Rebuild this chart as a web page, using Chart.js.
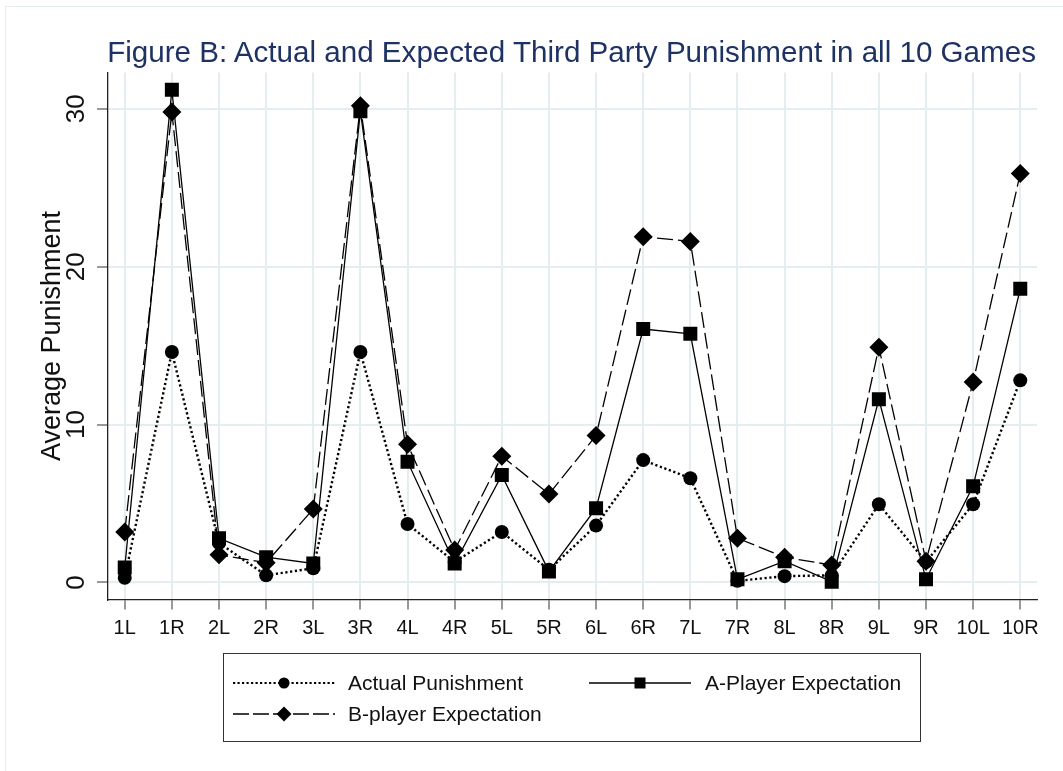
<!DOCTYPE html>
<html>
<head>
<meta charset="utf-8">
<script src="https://cdn.jsdelivr.net/npm/chart.js@4.4.1/dist/chart.umd.min.js"></script>
<style>
  html, body { margin: 0; padding: 0; background: #ffffff; overflow: hidden; }
  body { width: 1063px; height: 771px; position: relative; font-family: "Liberation Sans", Arial, sans-serif; }
  #frame { position: absolute; left: 5px; top: 6px; width: 2000px; height: 2000px; border: 1px solid #e6edf0; box-sizing: border-box; pointer-events: none; }
  #chart { position: absolute; left: 0; top: 0; }
  #title { position: absolute; right: 27px; top: 37px; font-size: 29.6px; line-height: 29px; color: #1e3263; white-space: nowrap; }
  #legend { position: absolute; left: 223px; top: 653px; width: 698px; height: 89px; border: 1px solid #333; box-sizing: border-box; }
  .item { position: absolute; height: 24px; display: flex; align-items: center; font-size: 21px; color: #111; white-space: nowrap; }
  .item svg { display: block; }
  .lbl { position: absolute; line-height: 24px; }
</style>
</head>
<body>
<div id="frame"></div>
<canvas id="chart" width="1063" height="771"></canvas>
<div id="title">Figure B: Actual and Expected Third Party Punishment in all 10 Games</div>
<div id="legend"></div>
<script>
const categories = ['1L','1R','2L','2R','3L','3R','4L','4R','5L','5R','6L','6R','7L','7R','8L','8R','9L','9R','10L','10R'];
const actualPunishment = [0.3, 14.6, 2.5, 0.45, 0.9, 14.6, 3.7, 1.3, 3.2, 0.8, 3.6, 7.75, 6.6, 0.1, 0.4, 0.45, 4.95, 1.3, 4.95, 12.8];
const aPlayerExpectation = [0.95, 31.2, 2.8, 1.6, 1.2, 29.85, 7.65, 1.2, 6.8, 0.7, 4.7, 16.05, 15.75, 0.2, 1.35, 0.05, 11.6, 0.2, 6.1, 18.6];
const bPlayerExpectation = [3.2, 29.8, 1.75, 1.25, 4.65, 30.2, 8.75, 2.05, 8.0, 5.6, 9.3, 21.9, 21.6, 2.8, 1.6, 1.1, 14.9, 1.35, 12.7, 25.9];
const yTickValues = [0, 10, 20, 30];
const seriesNames = ['Actual Punishment', 'A-Player Expectation', 'B-player Expectation'];

const toPoints = arr => arr.map((v, i) => ({ x: i, y: v }));
const FONT = '"Liberation Sans", Arial, sans-serif';
const GRID = '#e4edef';

const chart = new Chart(document.getElementById('chart'), {
  type: 'line',
  data: {
    datasets: [
      {
        label: seriesNames[0], data: toPoints(actualPunishment), order: 3,
        borderColor: '#000', backgroundColor: '#000', borderWidth: 2.4, borderDash: [2.2, 2.6],
        pointStyle: 'circle', pointRadius: 7, pointBackgroundColor: '#000', pointBorderColor: '#000', pointBorderWidth: 0,
        tension: 0, fill: false
      },
      {
        label: seriesNames[1], data: toPoints(aPlayerExpectation), order: 2,
        borderColor: '#000', backgroundColor: '#000', borderWidth: 1.3,
        pointStyle: 'rect', pointRadius: 9.9, pointBackgroundColor: '#000', pointBorderColor: '#000', pointBorderWidth: 0,
        tension: 0, fill: false
      },
      {
        label: seriesNames[2], data: toPoints(bPlayerExpectation), order: 1,
        borderColor: '#000', backgroundColor: '#000', borderWidth: 1.3, borderDash: [16, 5],
        pointStyle: 'rectRot', pointRadius: 9.5, pointBackgroundColor: '#000', pointBorderColor: '#000', pointBorderWidth: 0,
        tension: 0, fill: false
      }
    ]
  },
  options: {
    responsive: false,
    animation: false,
    devicePixelRatio: 1,
    layout: { padding: { left: 0, right: 26, top: 72.5, bottom: 122 } },
    plugins: { legend: { display: false }, title: { display: false }, tooltip: { enabled: false } },
    elements: { point: { hoverRadius: 0 } },
    scales: {
      x: {
        type: 'linear',
        min: -0.355, max: 19.355,
        afterBuildTicks: s => { s.ticks = categories.map((c, i) => ({ value: i })); },
        afterFit: s => { s.height = 49.5; },
        ticks: {
          autoSkip: false, minRotation: 0, maxRotation: 0, padding: 7,
          color: '#111', font: { family: FONT, size: 20 },
          callback: v => categories[v]
        },
        grid: { color: GRID, lineWidth: 2, tickColor: '#333', tickWidth: 1, tickLength: 10, drawTicks: true },
        border: { display: true, color: '#222', width: 1.3 }
      },
      y: {
        type: 'linear',
        min: -1.08, max: 32.3,
        afterBuildTicks: s => { s.ticks = yTickValues.map(v => ({ value: v })); },
        afterFit: s => { s.width = 108; },
        ticks: {
          minRotation: 90, maxRotation: 90, crossAlign: 'center', padding: 6.2,
          color: '#111', font: { family: FONT, size: 26 },
          callback: v => String(v)
        },
        grid: { color: GRID, lineWidth: 2, tickColor: '#333', tickWidth: 1, tickLength: 11, drawTicks: true },
        border: { display: true, color: '#222', width: 1.3 },
        title: {
          display: true, text: 'Average Punishment', color: '#111',
          font: { family: FONT, size: 27, lineHeight: 1.2 },
          padding: { top: 36, bottom: 0 }
        }
      }
    }
  }
});

// HTML legend (real text)
const legendDefs = [
  { name: seriesNames[0], dash: '2.2 2.3', width: 2.2, marker: 'circle', left: 9, top: 17, textLeft: 124 },
  { name: seriesNames[1], dash: '', width: 1.3, marker: 'square', left: 365, top: 17, textLeft: 481 },
  { name: seriesNames[2], dash: '16 4', width: 1.3, marker: 'diamond', left: 9, top: 48, textLeft: 124 }
];
const legend = document.getElementById('legend');
legendDefs.forEach(d => {
  const w = 102, h = 24, cx = 51, cy = 12;
  let marker = '';
  if (d.marker === 'circle') marker = `<circle cx="${cx}" cy="${cy}" r="5.5" fill="#000"/>`;
  if (d.marker === 'square') marker = `<rect x="${cx - 5.5}" y="${cy - 5.5}" width="11" height="11" fill="#000"/>`;
  if (d.marker === 'diamond') marker = `<polygon points="${cx - 7.5},${cy} ${cx},${cy - 7.5} ${cx + 7.5},${cy} ${cx},${cy + 7.5}" fill="#000"/>`;
  const svg = `<svg width="${w}" height="${h}" viewBox="0 0 ${w} ${h}"><line x1="0" y1="${cy}" x2="${w}" y2="${cy}" stroke="#000" stroke-width="${d.width}" ${d.dash ? `stroke-dasharray="${d.dash}"` : ''}/>${marker}</svg>`;
  const sym = document.createElement('div');
  sym.className = 'item';
  sym.style.left = d.left + 'px'; sym.style.top = d.top + 'px';
  sym.innerHTML = svg;
  legend.appendChild(sym);
  const lbl = document.createElement('div');
  lbl.className = 'item lbl';
  lbl.style.left = d.textLeft + 'px'; lbl.style.top = d.top + 'px';
  lbl.textContent = d.name;
  legend.appendChild(lbl);
});
</script>
</body>
</html>
